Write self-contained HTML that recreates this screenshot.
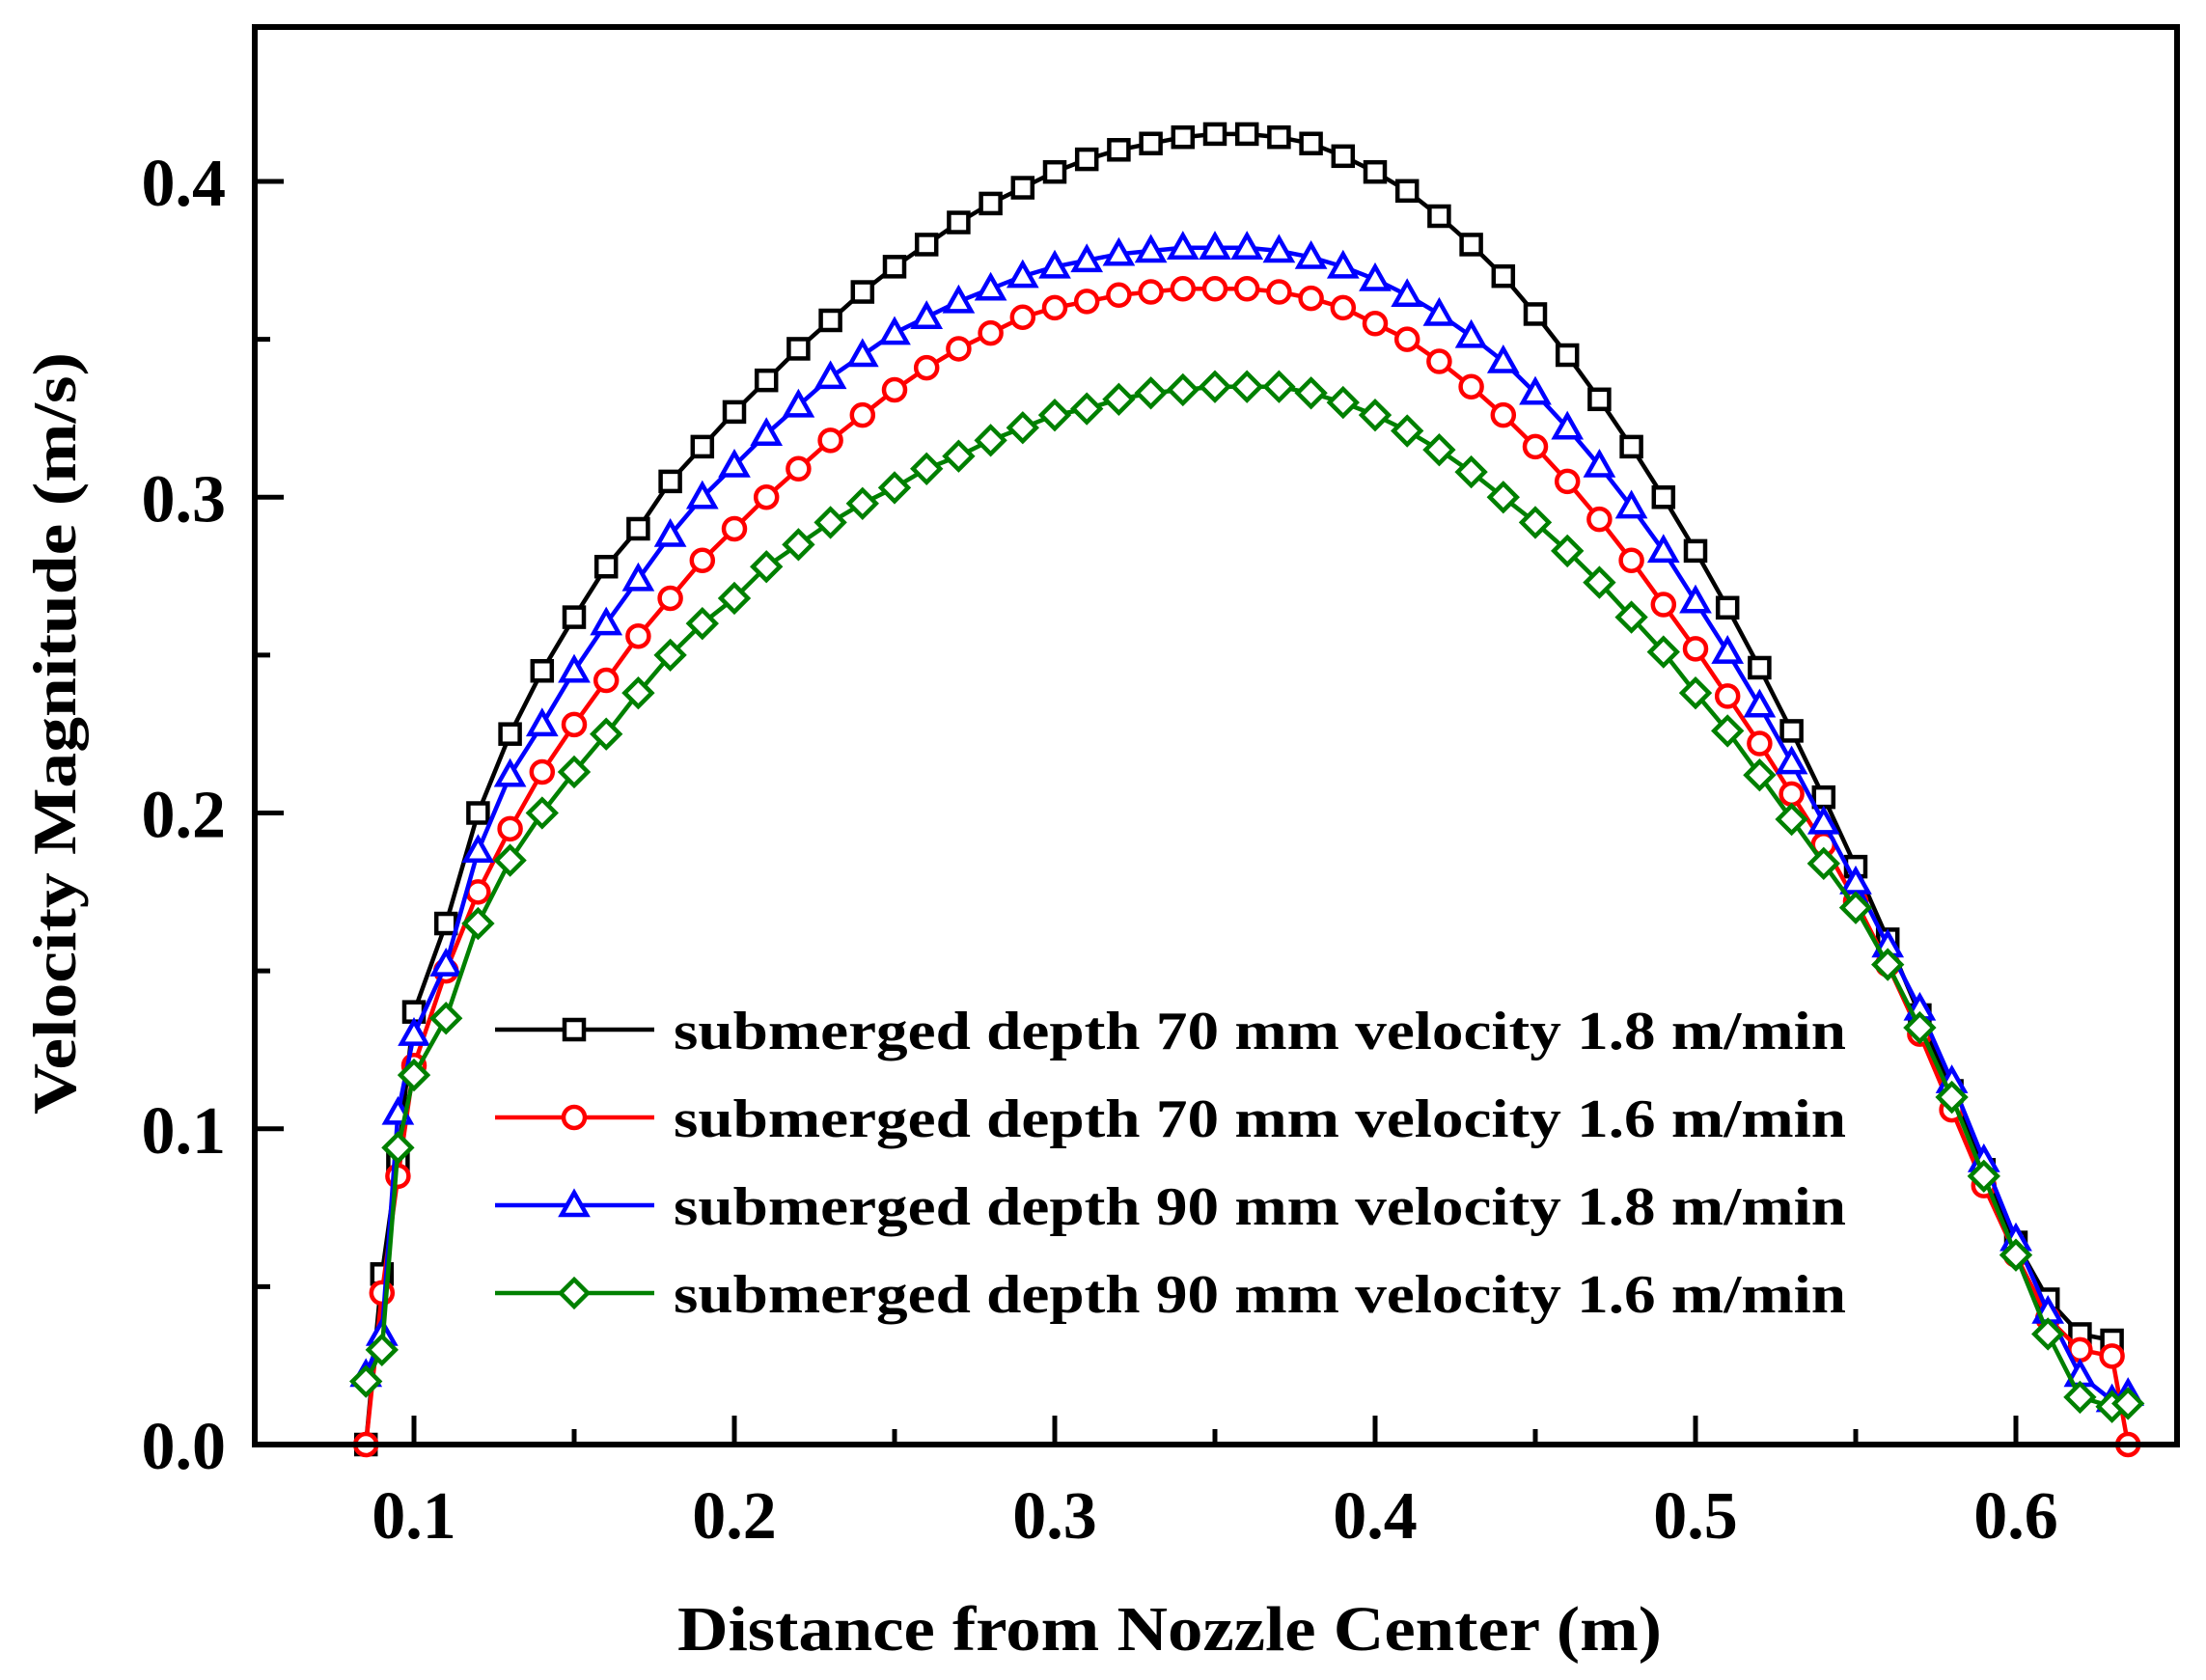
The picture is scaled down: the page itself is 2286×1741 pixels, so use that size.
<!DOCTYPE html>
<html><head><meta charset="utf-8"><style>html,body{margin:0;padding:0;background:#fff}svg{display:block}</style></head>
<body>
<svg id="chart" width="2286" height="1741" xmlns="http://www.w3.org/2000/svg" font-family="Liberation Serif, serif" font-weight="bold">
<rect width="2286" height="1741" fill="#fff"/>
<g id="plot"></g>
<g id="axes"></g>
<g id="legend"></g>
</svg>
<script>
const xVals=[0.085,0.09,0.095,0.1,0.11,0.12,0.13,0.14,0.15,0.16,0.17,0.18,0.19,0.2,0.21,0.22,0.23,0.24,0.25,0.26,0.27,0.28,0.29,0.3,0.31,0.32,0.33,0.34,0.35,0.36,0.37,0.38,0.39,0.4,0.41,0.42,0.43,0.44,0.45,0.46,0.47,0.48,0.49,0.5,0.51,0.52,0.53,0.54,0.55,0.56,0.57,0.58,0.59,0.6,0.61,0.62,0.63,0.635];
const blackVals=[0,0.054,0.09,0.137,0.165,0.2,0.225,0.245,0.262,0.278,0.29,0.305,0.316,0.327,0.337,0.347,0.356,0.365,0.373,0.38,0.387,0.393,0.398,0.403,0.407,0.41,0.412,0.414,0.415,0.415,0.414,0.412,0.408,0.403,0.397,0.389,0.38,0.37,0.358,0.345,0.331,0.316,0.3,0.283,0.265,0.246,0.226,0.205,0.183,0.16,0.136,0.112,0.087,0.064,0.046,0.035,0.033,null];
const redVals=[0,0.048,0.085,0.12,0.15,0.175,0.195,0.213,0.228,0.242,0.256,0.268,0.28,0.29,0.3,0.309,0.318,0.326,0.334,0.341,0.347,0.352,0.357,0.36,0.362,0.364,0.365,0.366,0.366,0.366,0.365,0.363,0.36,0.355,0.35,0.343,0.335,0.326,0.316,0.305,0.293,0.28,0.266,0.252,0.237,0.222,0.206,0.19,0.172,0.152,0.13,0.106,0.082,0.06,0.04,0.03,0.028,0];
const blueVals=[0.022,0.035,0.105,0.13,0.152,0.188,0.212,0.228,0.245,0.26,0.274,0.288,0.3,0.31,0.32,0.329,0.338,0.345,0.352,0.357,0.362,0.366,0.37,0.373,0.375,0.377,0.378,0.379,0.379,0.379,0.378,0.376,0.373,0.369,0.364,0.358,0.351,0.343,0.333,0.322,0.31,0.297,0.283,0.267,0.251,0.234,0.216,0.197,0.178,0.158,0.138,0.115,0.09,0.065,0.042,0.022,0.014,0.016];
const greenVals=[0.02,0.03,0.094,0.117,0.135,0.165,0.185,0.2,0.213,0.225,0.238,0.25,0.26,0.268,0.278,0.285,0.292,0.298,0.303,0.309,0.313,0.318,0.322,0.326,0.328,0.331,0.333,0.334,0.335,0.335,0.335,0.333,0.33,0.326,0.321,0.315,0.308,0.3,0.292,0.283,0.273,0.262,0.251,0.238,0.226,0.212,0.198,0.184,0.17,0.152,0.132,0.11,0.085,0.06,0.035,0.015,0.012,0.013];
const xTickLabels=["0.1","0.2","0.3","0.4","0.5","0.6"];
const yTickLabels=["0.0","0.1","0.2","0.3","0.4"];
const legendLabels=["submerged depth 70 mm velocity 1.8 m/min","submerged depth 70 mm velocity 1.6 m/min","submerged depth 90 mm velocity 1.8 m/min","submerged depth 90 mm velocity 1.6 m/min"];

const NS="http://www.w3.org/2000/svg";
const L=264,R=2256,T=28,B=1497;
function xs(v){return 97+v*3320;}
function ys(v){return 1497-v*3272.5;}
function mk(tag,attrs,parent){const e=document.createElementNS(NS,tag);for(const k in attrs)e.setAttribute(k,attrs[k]);parent.appendChild(e);return e;}
const plot=document.getElementById('plot'),axes=document.getElementById('axes'),legend=document.getElementById('legend');

function marker(type,cx,cy,color,parent){
  const s=10,sw=4.5;let e;
  if(type==='square'){e=mk('rect',{x:cx-s,y:cy-s,width:2*s,height:2*s,fill:'#fff',stroke:color,'stroke-width':sw},parent);}
  else if(type==='circle'){e=mk('circle',{cx:cx,cy:cy,r:s+1,fill:'#fff',stroke:color,'stroke-width':sw},parent);}
  else if(type==='triangle'){e=mk('polygon',{points:`${cx},${cy-s-3} ${cx+s+3},${cy+s} ${cx-s-3},${cy+s}`,fill:'#fff',stroke:color,'stroke-width':sw},parent);}
  else {e=mk('polygon',{points:`${cx},${cy-s-4} ${cx+s+4},${cy} ${cx},${cy+s+4} ${cx-s-4},${cy}`,fill:'#fff',stroke:color,'stroke-width':sw},parent);}
  return e;
}
const series=[
 {name:'series-70mm-1.8',vals:blackVals,color:'#000',m:'square'},
 {name:'series-70mm-1.6',vals:redVals,color:'#f00',m:'circle'},
 {name:'series-90mm-1.8',vals:blueVals,color:'#00f',m:'triangle'},
 {name:'series-90mm-1.6',vals:greenVals,color:'#008000',m:'diamond'}
];
series.forEach(s=>{
  const g=mk('g',{},plot);
  
  
  let d='';
  s.vals.forEach((v,i)=>{if(v===null)return;d+=(d?'L':'M')+xs(xVals[i]).toFixed(1)+','+ys(v).toFixed(1);});
  const p=mk('path',{d:d,fill:'none',stroke:s.color,'stroke-width':4.5},g);
  
  
  s.vals.forEach((v,i)=>{if(v===null)return;
    const e=marker(s.m,xs(xVals[i]),ys(v),s.color,g);
    
    
  });
});
const fr=mk('rect',{x:L,y:T,width:R-L,height:B-T,fill:'none',stroke:'#000','stroke-width':6},axes);


xTickLabels.forEach(t=>{
  const v=parseFloat(t),x=xs(v);
  const tk=mk('line',{x1:x,y1:B,x2:x,y2:B-30,stroke:'#000','stroke-width':5},axes);
  
  
  const tx=mk('text',{x:x,y:1594,'text-anchor':'middle','font-size':70},axes);tx.textContent=t;
  
  
  if(v<0.6){const xm=xs(v+0.05);const m=mk('line',{x1:xm,y1:B,x2:xm,y2:B-16,stroke:'#000','stroke-width':5},axes);
    
    }
});
yTickLabels.forEach(t=>{
  const v=parseFloat(t),y=ys(v);
  if(v>0){const tk=mk('line',{x1:L,y1:y,x2:L+30,y2:y,stroke:'#000','stroke-width':5},axes);
    
    }
  const tx=mk('text',{x:234,y:y+25,'text-anchor':'end','font-size':70},axes);tx.textContent=t;
  
  
  const ym=ys(v+0.05);
  if(ym>T+10){const m=mk('line',{x1:L,y1:ym,x2:L+16,y2:ym,stroke:'#000','stroke-width':5},axes);
    
    }
});
const xt=mk('text',{x:1212,y:1710,'text-anchor':'middle','font-size':66,textLength:1020,lengthAdjust:'spacingAndGlyphs'},axes);
xt.textContent='Distance from Nozzle Center (m)';


const yt=mk('text',{x:0,y:0,'text-anchor':'middle','font-size':64,textLength:790,lengthAdjust:'spacingAndGlyphs',transform:'translate(78,760) rotate(-90)'},axes);
yt.textContent='Velocity Magnitude (m/s)';


const legY=[1067,1158,1249,1340];
series.forEach((s,i)=>{
  const g=mk('g',{},legend);
  
  
  mk('line',{x1:513,y1:legY[i],x2:678,y2:legY[i],stroke:s.color,'stroke-width':4.5},g);
  marker(s.m,595,legY[i],s.color,g);
  const tx=mk('text',{x:698,y:legY[i]+20,'font-size':56,textLength:1215,lengthAdjust:'spacingAndGlyphs'},g);
  tx.textContent=legendLabels[i];
});
</script>
</body></html>
